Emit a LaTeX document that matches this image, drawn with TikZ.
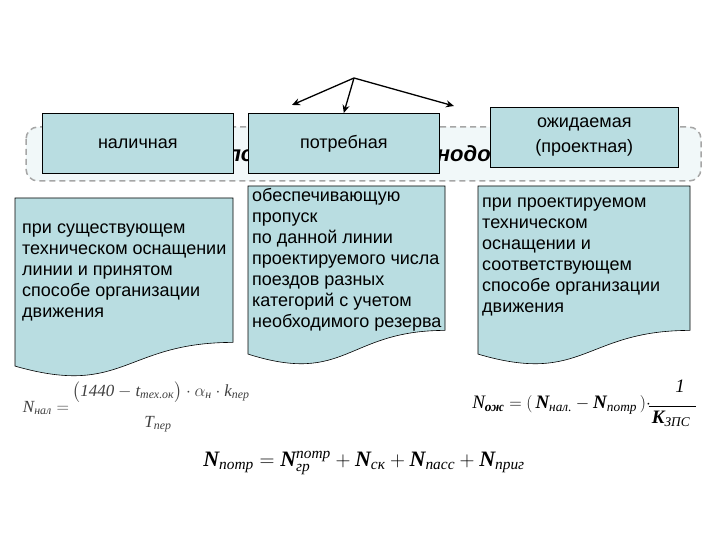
\documentclass[tikz,border=0pt]{standalone}
\usepackage{fontspec}
\usepackage{amsmath}
\setmainfont{Liberation Sans}
\newfontfamily\tnr{Liberation Serif}
\usetikzlibrary{positioning,arrows.meta}
\definecolor{boxfill}{HTML}{B9DDE1}
\definecolor{bandfill}{HTML}{F1F8F9}
\definecolor{bandline}{HTML}{A6A6A6}
\tikzset{
  band/.style={draw=bandline, dash pattern=on 6pt off 4pt, line width=1.5pt, fill=bandfill, rounded corners=12pt},
  bandtitle/.style={font=\bfseries\itshape\fontsize{22}{26}\selectfont, inner sep=0pt},
  headbox/.style={draw=black, fill=boxfill, line width=0.6pt, minimum width=191pt, minimum height=60pt, inner sep=0pt, align=center, font=\fontsize{18}{25}\selectfont},
  docbox/.style={draw=black, fill=boxfill, line width=0.6pt},
  doctext/.style={anchor=north west, inner sep=0pt, align=left, font=\fontsize{18}{21}\selectfont},
  pointer/.style={-{Stealth[length=8pt,width=7pt]}, line width=1.3pt},
  formula/.style={inner sep=0pt, font=\tnr\itshape\fontsize{17}{20}\selectfont},
  formulamid/.style={inner sep=0pt, font=\tnr\itshape\fontsize{19}{22}\selectfont},
  formulabig/.style={inner sep=0pt, font=\tnr\itshape\fontsize{22}{26}\selectfont}
}

\begin{document}
\begin{tikzpicture}[x=1pt,y=-1pt]
  \useasboundingbox (0,0) rectangle (720,540);
  % dashed band with the title behind the boxes
  \draw[band] (26,127) rectangle (701,181);
  \node[bandtitle] (title) at (363,156) {Пропускная способность железнодорожной линии};
  % top row
  \node[headbox, anchor=north west] (nal) at (42,113) {\raisebox{-4pt}{наличная}};
  \node[headbox, anchor=north west] (potr) at (248,113) {\raisebox{-4pt}{потребная}};
  \node[headbox, anchor=north west, minimum width=188pt] (ozh) at (490,107) {ожидаемая\\(проектная)};
  % arrows
  \coordinate (fork) at (354,78);
  \coordinate (leftend) at (292,105);
  \coordinate (rightend) at (454,106);
  \draw[pointer] (fork) -- (leftend);
  \draw[pointer] (fork) -- (potr.north);
  \draw[pointer] (fork) -- (rightend);
  % document shapes
  \draw[docbox] (15,198) -- (233,198) -- (233,342.4)
    .. controls (124,342.4) and (124,397.4) .. (15,366.1) -- cycle;
  \draw[docbox] (248,186) -- (445,186) -- (445,330.4)
    .. controls (346.5,330.4) and (346.5,385.4) .. (248,354.1) -- cycle;
  \draw[docbox] (478,186) -- (690,186) -- (690,330.4)
    .. controls (584,330.4) and (584,385.4) .. (478,354.1) -- cycle;
  \node[doctext] (nalText) at (22,224) {при существующем\\техническом оснащении\\линии и принятом\\способе организации\\движения};
  \node[doctext] (potrText) at (252,188) {обеспечивающую\\пропуск\\по данной линии\\проектируемого числа\\поездов разных\\категорий с учетом\\необходимого резерва};
  \node[doctext] (ozhText) at (482,198) {при проектируемом\\техническом\\оснащении и\\соответствующем\\способе организации\\движения};
  % formulas
  \node[formula, text=black!75] (f1lhs) at (46,408) {$\text{N}_{\text{нал}}=$};
  \node[formula, text=black!75] (f1num) at (161,392) {$\bigl(\text{1440}-\text{t}_{\text{тех.ок}}\bigr)\cdot\alpha_{\text{н}}\cdot\text{k}_{\text{пер}}$};
  \node[formula, text=black!75] (f1den) at (158,424) {$\text{T}_{\text{пер}}$};
  \node[formulamid, anchor=east] (f2) at (651,405) {$\text{N}_{\text{\bfseries ож}}=(\,\text{\bfseries N}_{\text{нал.}}-\text{\bfseries N}_{\text{потр}}\,)\cdot$};
  \node[formulamid] (f2num) at (680,386) {1};
  \node[formulamid] (f2den) at (671,419) {$\text{\bfseries K}_{\text{ЗПС}}$};
  \draw[line width=0.7pt] (f2den.north west) ++(-3,-5) coordinate (barl) -- (barl -| f2den.north east) -- ++(6,0) coordinate (barr);
  \node[formulabig] (f3) at (364,463) {$\text{\bfseries N}_{\text{потр}}=\text{\bfseries N}^{\text{потр}}_{\text{гр}}+\text{\bfseries N}_{\text{ск}}+\text{\bfseries N}_{\text{пасс}}+\text{\bfseries N}_{\text{приг}}$};
\end{tikzpicture}
\end{document}
